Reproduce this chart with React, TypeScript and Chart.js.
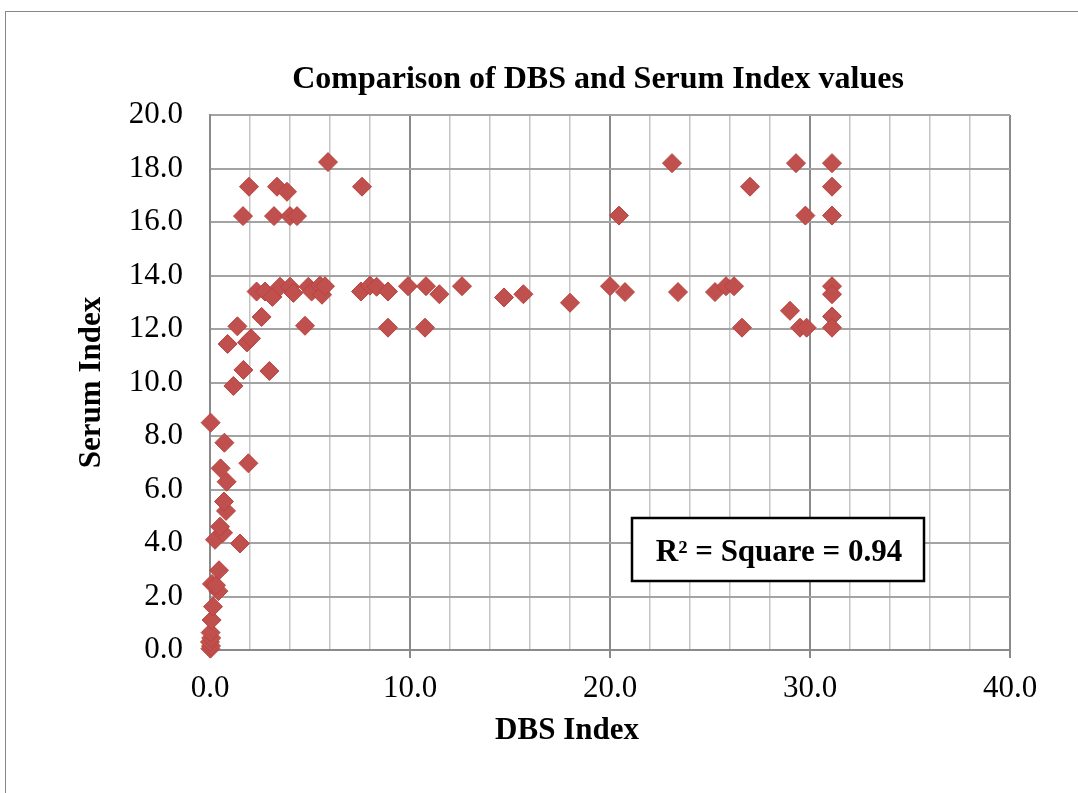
import React, { useEffect, useRef } from 'react';
import { Chart, registerables } from 'chart.js';

Chart.register(...registerables);

const chartTitle = 'Comparison of DBS and Serum Index values';
const xAxisTitle = 'DBS Index';
const yAxisTitle = 'Serum Index';
const annotationText = 'R\u00B2 = Square = 0.94';

const xMin = 0;
const xMax = 40;
const xGridStep = 2;
const xLabelStep = 10;
const yMin = 0;
const yMax = 20;
const yStep = 2;

// DBS Index (x) values
const dbsIndex = [
  0.02, 0.05, 0.0, 0.06, 0.03, 0.08, 0.15, 0.42, 0.1, 0.3, 0.45, 0.25, 0.65, 0.5, 1.5,
  0.8, 0.7, 0.83, 0.53, 1.92, 0.72, 0.03, 1.17, 1.67, 2.97, 0.88, 1.85, 2.05, 1.37, 2.58,
  4.75,
  2.33, 2.75, 3.12, 3.5, 4.0, 4.17, 4.92, 5.08, 5.5, 5.6, 5.75, 7.55, 8.0, 8.33,
  1.65, 3.2, 4.0, 4.35, 1.95, 3.35, 3.85, 7.6, 5.9,
  8.9, 8.9, 9.9, 10.8, 10.75, 11.47, 12.6, 14.7, 15.67, 18.0, 20.0, 20.75, 20.45, 23.1,
  23.4, 25.25, 25.8, 26.2, 26.6, 27.0, 29.0, 29.3, 29.5, 29.83, 29.77, 31.1, 31.1, 31.1,
  31.1, 31.1, 31.1, 31.1,
];

// Serum Index (y) values
const serumIndex = [
  0.05, 0.15, 0.3, 0.45, 0.65, 1.12, 1.62, 2.2, 2.47, 2.42, 2.98, 4.12, 4.38, 4.61, 3.98,
  5.2, 5.55, 6.29, 6.79, 6.98, 7.75, 8.5, 9.87, 10.47, 10.43, 11.44, 11.5, 11.65, 12.1, 12.45,
  12.12,
  13.4, 13.4, 13.2, 13.58, 13.58, 13.35, 13.58, 13.4, 13.62, 13.28, 13.6, 13.4, 13.62, 13.58,
  16.22, 16.22, 16.22, 16.22, 17.32, 17.32, 17.13, 17.32, 18.24,
  13.4, 12.05, 13.6, 13.6, 12.05, 13.3, 13.6, 13.18, 13.3, 12.98, 13.6, 13.38, 16.24, 18.2,
  13.38, 13.38, 13.6, 13.6, 12.05, 17.32, 12.68, 18.2, 12.05, 12.05, 16.24, 18.2, 17.32, 16.24,
  13.6, 13.3, 12.47, 12.05,
];

const FONT = '"Liberation Serif", "Times New Roman", serif';

const decorPlugin = {
  id: 'decor',
  afterDraw(chart: any) {
    const ctx = chart.ctx as CanvasRenderingContext2D;
    const area = chart.chartArea;
    ctx.save();
    // outer frame
    ctx.strokeStyle = '#878787';
    ctx.lineWidth = 1;
    ctx.strokeRect(5.5, 11.5, 3000, 3000);

    ctx.fillStyle = '#000';
    // title
    ctx.font = `bold 32px ${FONT}`;
    ctx.textAlign = 'center';
    ctx.textBaseline = 'alphabetic';
    ctx.fillText(chartTitle, 598, 88);

    // x axis title
    ctx.font = `bold 31px ${FONT}`;
    ctx.fillText(xAxisTitle, 567, 739);

    // y axis title
    ctx.save();
    ctx.translate(100, (area.top + area.bottom) / 2);
    ctx.rotate(-Math.PI / 2);
    ctx.textAlign = 'center';
    ctx.fillText(yAxisTitle, 0, 0);
    ctx.restore();

    // R² box
    ctx.fillStyle = '#fff';
    ctx.fillRect(632, 518, 292, 63);
    ctx.strokeStyle = '#000';
    ctx.lineWidth = 2.5;
    ctx.strokeRect(632, 518, 292, 63);
    ctx.fillStyle = '#000';
    ctx.font = `bold 31px ${FONT}`;
    ctx.textAlign = 'center';
    ctx.fillText(annotationText, 779, 561);
    ctx.restore();
  },
};

export default function App() {
  const canvasRef = useRef<HTMLCanvasElement | null>(null);

  useEffect(() => {
    const canvas = canvasRef.current;
    if (!canvas) return;
    const points = dbsIndex.map((x, i) => ({ x, y: serumIndex[i] }));
    const chart = new Chart(canvas, {
      type: 'scatter',
      data: {
        datasets: [
          {
            label: 'Serum vs DBS',
            data: points,
            pointStyle: 'rectRot',
            pointRadius: 9.5,
            pointHoverRadius: 9.5,
            backgroundColor: '#c0504d',
            borderColor: '#b9423f',
            borderWidth: 1,
            clip: false,
          },
        ],
      },
      options: {
        responsive: false,
        animation: false,
        devicePixelRatio: 1,
        layout: { padding: { top: 115, right: 68, left: 0, bottom: 0 } },
        plugins: {
          legend: { display: false },
          tooltip: { enabled: false },
          title: { display: false },
        },
        scales: {
          x: {
            type: 'linear',
            min: xMin,
            max: xMax,
            afterFit: (scale: any) => {
              scale.height = 793 - 650;
            },
            ticks: {
              stepSize: xGridStep,
              autoSkip: false,
              maxRotation: 0,
              padding: 12,
              color: '#000',
              font: { family: FONT, size: 31 },
              callback: (v: any) => (Number(v) % xLabelStep === 0 ? Number(v).toFixed(1) : ''),
            },
            grid: {
              color: (c: any) => (c.tick && c.tick.value % xLabelStep === 0 ? '#8a8a8a' : '#c4c4c4'),
              lineWidth: (c: any) => (c.tick && c.tick.value % xLabelStep === 0 ? 2 : 1.5),
              tickColor: (c: any) => (c.tick && c.tick.value % xLabelStep === 0 ? '#8a8a8a' : 'rgba(0,0,0,0)'),
              tickLength: 8,
              drawTicks: true,
            },
            border: { display: true, color: '#8a8a8a', width: 2 },
          },
          y: {
            type: 'linear',
            min: yMin,
            max: yMax,
            afterFit: (scale: any) => {
              scale.width = 210;
            },
            ticks: {
              stepSize: yStep,
              padding: 27,
              color: '#000',
              font: { family: FONT, size: 31 },
              callback: (v: any) => Number(v).toFixed(1),
            },
            grid: {
              color: '#a3a3a3',
              lineWidth: 2,
              drawTicks: false,
            },
            border: { display: true, color: '#8a8a8a', width: 2 },
          },
        },
      },
      plugins: [decorPlugin],
    });
    return () => chart.destroy();
  }, []);

  return (
    <div style={{ position: 'fixed', left: 0, top: 0, width: 1078, height: 793, background: '#fff' }}>
      <canvas ref={canvasRef} width={1078} height={793} style={{ display: 'block' }} />
    </div>
  );
}
